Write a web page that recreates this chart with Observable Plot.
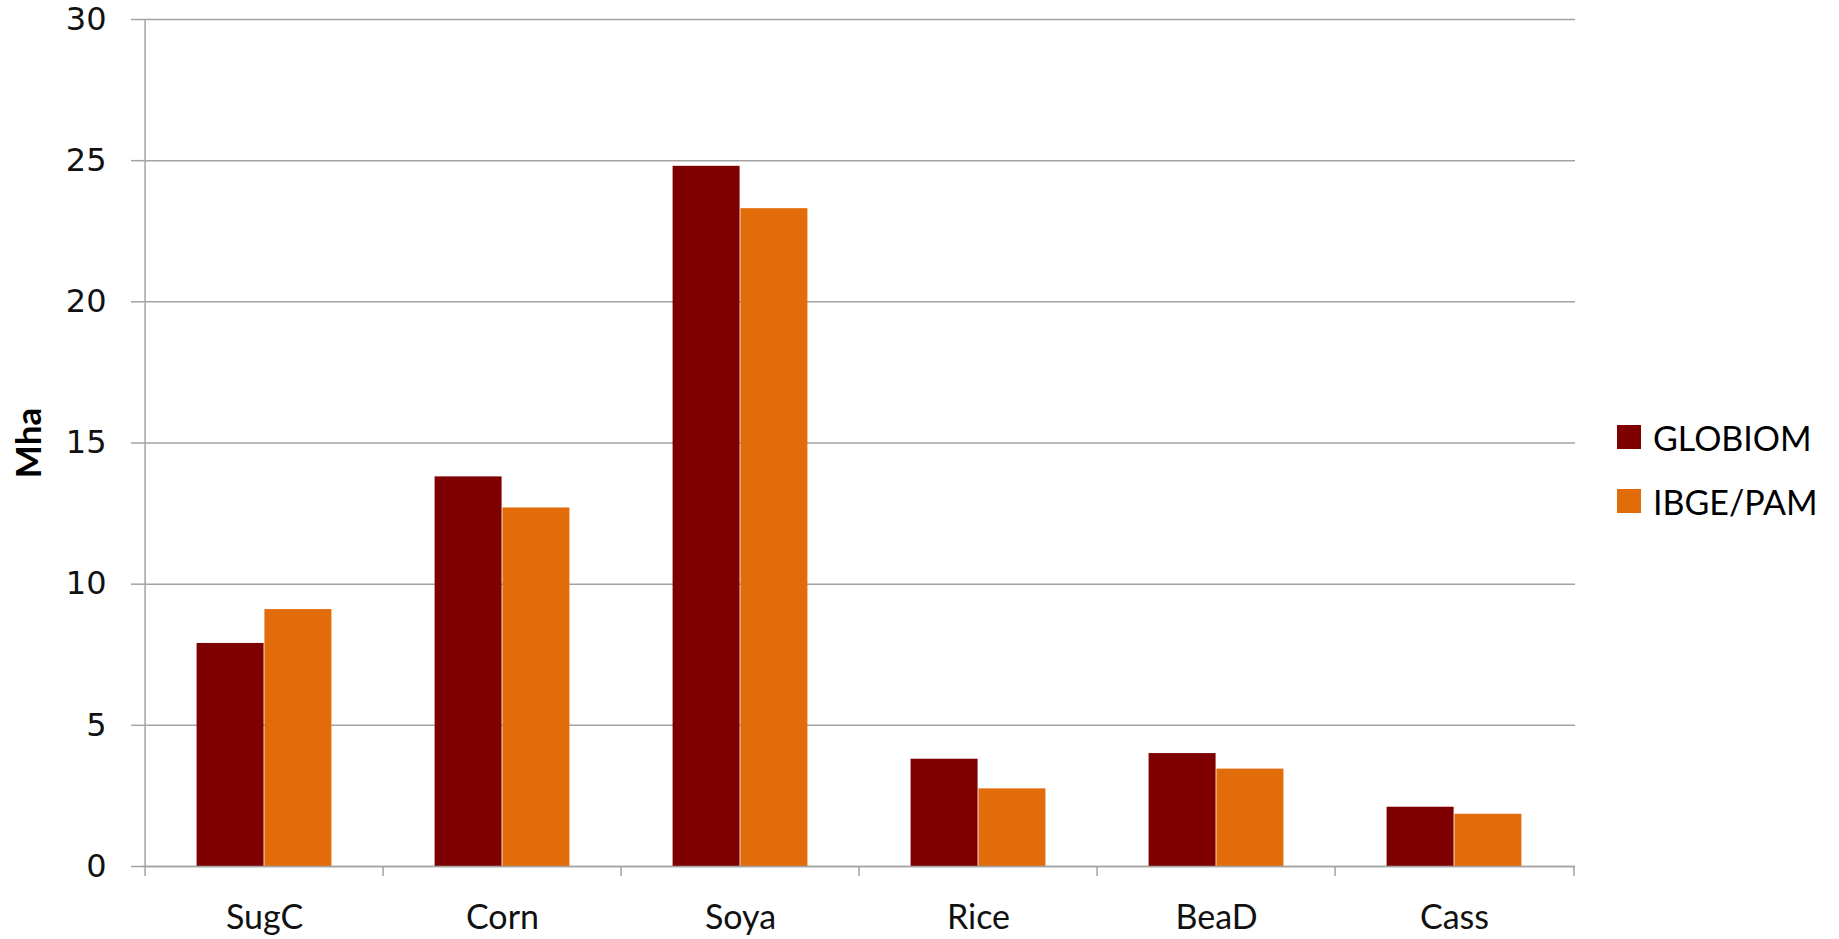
<!DOCTYPE html>
<html>
<head>
<meta charset="utf-8">
<script src="https://cdn.jsdelivr.net/npm/d3@7"></script>
<script src="https://cdn.jsdelivr.net/npm/@observablehq/plot@0.6"></script>
<style>
  html, body { margin: 0; padding: 0; background: #fff; }
  #wrap { position: relative; width: 1839px; height: 939px; }
  #legend { position: absolute; left: 1617px; top: 417px; font-family: Lato, "Noto Sans", sans-serif; font-size: 34px; color: #000; }
  #legend .row { display: flex; align-items: center; height: 40px; margin-bottom: 24px; }
  #legend .sw { width: 24px; height: 24px; margin-right: 12px; }
</style>
</head>
<body>
<div id="wrap"><div id="legend"></div></div>
<script>
const categories = ["SugC", "Corn", "Soya", "Rice", "BeaD", "Cass"];
const seriesNames = ["GLOBIOM", "IBGE/PAM"];
const globiom = [7.9, 13.8, 24.8, 3.8, 4.0, 2.1];
const ibgePam = [9.1, 12.7, 23.3, 2.75, 3.45, 1.85];
const yTicks = [0, 5, 10, 15, 20, 25, 30];
const colors = ["#7f0000", "#e36c0a"];

const table = categories.map((c, i) => ({crop: c, GLOBIOM: globiom[i], IBGE: ibgePam[i]}));

const W = 1839, H = 939, mL = 142, mR = 264, mT = 19, mB = 73;
const step = (W - mL - mR) / categories.length;
const gray = "#a3a3a3";

const chart = Plot.plot({
  width: W, height: H,
  marginLeft: mL, marginRight: mR, marginTop: mT, marginBottom: mB,
  style: {background: "#fff", overflow: "visible"},
  x: {type: "band", domain: categories, padding: 0},
  y: {domain: [0, 30]},
  marks: [
    Plot.gridY(yTicks, {stroke: gray, strokeOpacity: 1, strokeWidth: 1.5}),
    Plot.axisY(yTicks, {tickSize: 11, tickPadding: 25, stroke: gray, strokeWidth: 1.5, fill: "#111", fontSize: 32, fontFamily: "DejaVu Sans", label: null}),
    Plot.barY(table, {x: "crop", y: "GLOBIOM", fill: colors[0], insetLeft: step * 0.216, insetRight: step * 0.5}),
    Plot.barY(table, {x: "crop", y: "IBGE", fill: colors[1], insetLeft: step * 0.5, insetRight: step * 0.216}),
    Plot.ruleY([0], {stroke: gray, strokeWidth: 1.5}),
    Plot.ruleX(["SugC"], {x: d => d, dx: -step / 2, stroke: gray, strokeWidth: 1.5}),
    Plot.axisX({tickSize: 10, tickFormat: () => "", dx: -step / 2, stroke: gray, strokeWidth: 1.5, label: null}),
    Plot.axisX(["Cass"], {tickSize: 10, tickFormat: () => "", dx: step / 2, stroke: gray, strokeWidth: 1.5, label: null}),
    Plot.axisX({tickSize: 0, tickPadding: 38, fontSize: 34, fontFamily: "Lato", fill: "#111", label: null}),
    Plot.text(["Mha"], {frameAnchor: "left", textAnchor: "middle", lineAnchor: "middle", rotate: -90, dx: -113, fontWeight: "bold", fontSize: 35, fontFamily: "Lato", fill: "#000"})
  ]
});
document.getElementById("wrap").prepend(chart);

const legend = document.getElementById("legend");
seriesNames.forEach((name, i) => {
  const row = document.createElement("div");
  row.className = "row";
  const sw = document.createElement("div");
  sw.className = "sw";
  sw.style.background = colors[i];
  const t = document.createElement("span");
  t.textContent = name;
  row.append(sw, t);
  legend.append(row);
});
</script>
</body>
</html>
